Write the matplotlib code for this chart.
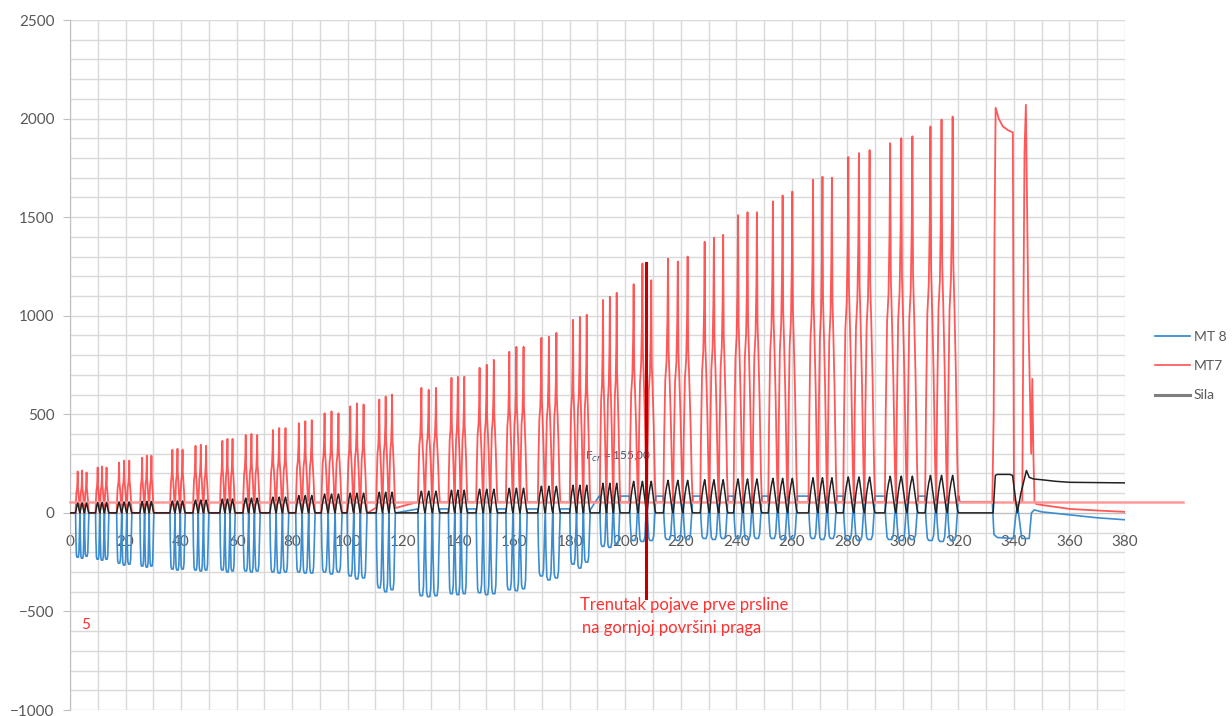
import numpy as np
import matplotlib
matplotlib.use("Agg")
import matplotlib.pyplot as plt
from matplotlib.lines import Line2D

plt.rcParams['font.family'] = ['Lato', 'DejaVu Sans']

# ---------------- data ----------------
group_start = [2.0, 9.2, 16.8, 25.2, 36.0, 44.3, 54.0, 62.3, 72.0, 81.3, 90.5, 99.8,
               110.3, 125.3, 136.3, 146.3, 157.0, 168.5, 180.0, 190.8, 201.5, 213.7,
               227.0, 239.0, 251.5, 266.0, 278.5, 293.5, 308.0]
group_end = [6.8, 14.0, 22.3, 30.2, 41.5, 50.0, 59.5, 68.5, 78.8, 88.3, 98.0, 107.0,
             117.2, 133.2, 143.2, 154.0, 164.7, 176.6, 187.4, 198.2, 211.0, 224.3,
             237.0, 249.2, 262.0, 276.2, 290.0, 305.5, 320.0]

mt7_peaks = [(210, 215, 205), (230, 235, 230), (255, 265, 265), (280, 290, 290),
             (320, 325, 320), (340, 345, 340), (365, 375, 375), (395, 400, 395),
             (420, 430, 430), (455, 465, 470), (505, 515, 505), (540, 555, 550),
             (575, 590, 600), (634, 624, 634), (685, 690, 690), (736, 751, 776),
             (817, 842, 842), (888, 893, 913), (979, 994, 1005), (1080, 1096, 1116),
             (1160, 1265, 1180), (1290, 1275, 1300), (1375, 1395, 1410),
             (1510, 1525, 1525), (1580, 1610, 1630), (1690, 1705, 1700),
             (1805, 1825, 1840), (1875, 1900, 1910), (1960, 1995, 2010)]

mt8_mins = [(-225, -230, -220), (-235, -240, -235), (-255, -265, -260), (-270, -275, -270),
            (-285, -290, -285), (-290, -295, -290), (-290, -300, -295), (-295, -300, -295),
            (-300, -305, -300), (-300, -305, -305), (-300, -310, -300), (-320, -335, -330),
            (-380, -400, -390), (-420, -425, -420), (-410, -415, -410), (-405, -415, -410),
            (-390, -395, -385), (-320, -340, -330), (-260, -280, -250), (-170, -175, -160),
            (-140, -145, -140), (-135, -140, -135), (-130, -135, -130), (-130, -135, -130),
            (-130, -135, -130), (-130, -135, -130), (-135, -140, -135), (-135, -140, -135),
            (-140, -145, -140)]

sila_peaks = [50, 52, 55, 58, 60, 65, 70, 75, 80, 88, 95, 100, 105, 110, 115, 120, 125,
              135, 140, 150, 160, 165, 168, 172, 175, 178, 182, 186, 190]

mt7_base = [0] * 12 + [25] + [55] * 16
mt8_base = [0] * 13 + [20] * 6 + [85] * 10

# normalised shape of one load cycle (fraction of cycle time -> fraction of amplitude)
cycle_t = [0.00, 0.08, 0.20, 0.33, 0.42, 0.48, 0.54, 0.63, 0.76, 0.90, 1.00]
cycle_mt7 = [0.00, 0.25, 0.50, 0.58, 0.75, 1.00, 0.62, 0.52, 0.35, 0.10, 0.00]
cycle_sila = [0.00, 0.20, 0.55, 0.80, 0.92, 1.00, 0.90, 0.70, 0.40, 0.10, 0.00]
cycle_mt8 = [0.00, 0.55, 0.95, 1.00, 1.00, 1.00, 1.00, 1.00, 0.90, 0.40, 0.00]

# final phase (after the cyclic loading)
mt7_tail_x = [320.5, 332.2, 332.7, 333.0, 333.4, 334.5, 336, 338, 339.6, 340.0, 341,
              343.0, 343.4, 343.8, 344.3, 345.2, 346.2, 346.6, 347.0, 347.4, 348, 350,
              355, 360, 370, 380]
mt7_tail_y = [56, 56, 500, 1400, 2055, 2000, 1960, 1940, 1930, 60, 40, 60, 1000, 1830,
              2070, 1000, 300, 680, 300, 60, 45, 40, 30, 20, 12, 5]
sila_tail_x = [320.5, 332.5, 333.3, 334, 338.5, 339.5, 341.2, 342.5, 344.5, 345.5, 347,
               350, 355, 360, 380]
sila_tail_y = [0, 0, 190, 195, 195, 190, 0, 100, 215, 180, 172, 168, 160, 155, 152]
mt8_tail_x = [320.5, 332.2, 332.8, 334, 339.8, 340.6, 341.3, 342.0, 342.8, 345.5, 346.3,
              347.3, 350, 360, 370, 380]
mt8_tail_y = [55, 55, -110, -125, -130, -20, 40, -40, -130, -130, 0, 15, 5, -10, -25, -35]

crack_x = 207.3
crack_top, crack_bottom = 1265, -430
ref_line_y = 57


# ---------------- build series ----------------
def build(peaks_per_group, base, shape, tail_x, tail_y, single=False):
    xs, ys = [0.0], [base[0]]
    for g, (s, e) in enumerate(zip(group_start, group_end)):
        d = (e - s) / 3.0
        b = base[g]
        xs.append(s - 0.2)
        ys.append(b)
        for k in range(3):
            p = peaks_per_group[g] if single else peaks_per_group[g][k]
            for tf, f in zip(cycle_t, shape):
                xs.append(s + k * d + tf * d)
                ys.append(b + f * (p - b))
        xs.append(e + 0.2)
        ys.append(b)
    xs += tail_x
    ys += tail_y
    return np.array(xs), np.array(ys)


x7, y7 = build(mt7_peaks, mt7_base, cycle_mt7, mt7_tail_x, mt7_tail_y)
x8, y8 = build(mt8_mins, mt8_base, cycle_mt8, mt8_tail_x, mt8_tail_y)
xs_, ys_ = build(sila_peaks, [0] * 29, cycle_sila, sila_tail_x, sila_tail_y, single=True)

# ---------------- figure ----------------
fig = plt.figure(figsize=(12.32, 7.16), dpi=100)
ax = fig.add_axes([70 / 1232, 1 - 710 / 716, 1055 / 1232, 690 / 716])
ax.set_xlim(0, 380)
ax.set_ylim(-1000, 2500)

ax.set_xticks(np.arange(0, 381, 20))
ax.set_xticks(np.arange(0, 381, 10), minor=True)
ax.set_yticks(np.arange(-1000, 2501, 500))
ax.set_yticks(np.arange(-1000, 2501, 100), minor=True)
ax.grid(True, which='both', color='#d9d9d9', lw=1.0, zorder=0)
ax.set_axisbelow(True)

for sp in ['top', 'right']:
    ax.spines[sp].set_visible(False)
ax.spines['left'].set_color('#bfbfbf')
ax.spines['bottom'].set_position(('data', 0))
ax.spines['bottom'].set_color('#bfbfbf')
ax.tick_params(axis='x', which='both', length=0, pad=16, labelsize=11, labelcolor='#595959')
ax.tick_params(axis='y', which='major', length=5, color='#bfbfbf', pad=6, labelsize=11,
               labelcolor='#595959')
ax.tick_params(axis='y', which='minor', length=0)

ax.text(185.5, 269, r"F$_{cr}$ = 155,00", color='#44546A', fontsize=8.5, zorder=1)

ax.plot(x8, y8, color='#3C8DD0', lw=1.2, zorder=3)
ax.plot(x7, y7, color='#FF3B3B', lw=1.3, alpha=0.85, zorder=4)
ax.plot(xs_, ys_, color='#222222', lw=1.1, zorder=5)

ax.plot([0, 401], [ref_line_y, ref_line_y], color='#FF9999', lw=1.8, zorder=4,
        clip_on=False)
ax.plot([crack_x, crack_x], [crack_top, crack_bottom], color='#C00000', lw=2.2, zorder=6)

ax.text(183.7, -467, "Trenutak pojave prve prsline", color='#FF3030', fontsize=12,
        va='center', ha='left', zorder=7)
ax.text(184.5, -583, "na gornjoj površini praga", color='#FF3030', fontsize=12,
        va='center', ha='left', zorder=7)
ax.text(4.0, -568, "5", color='#FF3030', fontsize=11, va='center', ha='left', zorder=7)

handles = [Line2D([], [], color='#3C8DD0', lw=1.3),
           Line2D([], [], color='#FF6060', lw=1.3),
           Line2D([], [], color='#7f7f7f', lw=2.2)]
ax.legend(handles, ['MT 8', 'MT7', 'Sila'], loc='center left',
          bbox_to_anchor=(1155 / 1232, 1 - 366 / 716), bbox_transform=fig.transFigure,
          frameon=False, handlelength=2.5, handletextpad=0.3, labelspacing=1.25,
          borderpad=0, borderaxespad=0, fontsize=10, labelcolor='#595959')

fig.savefig('out.png', dpi=100)
